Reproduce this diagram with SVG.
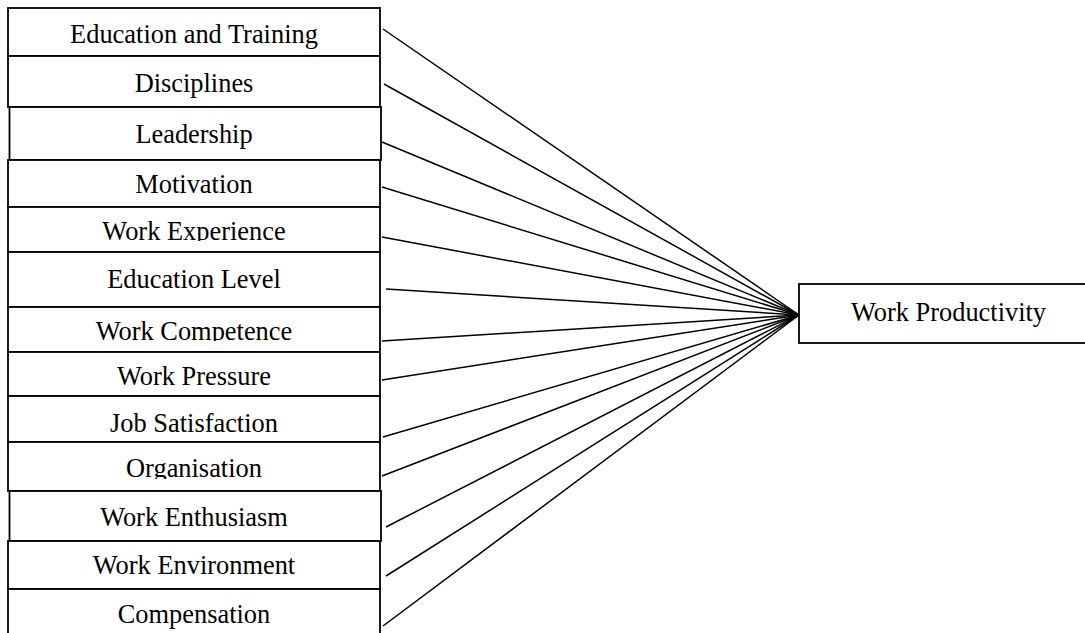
<svg xmlns="http://www.w3.org/2000/svg" width="1085" height="633" viewBox="0 0 1085 633">
<style>
.box{fill:#fff;stroke:#000;stroke-width:1.8}
.lbl{font-family:"Liberation Serif","Times New Roman",serif;font-size:26.4px;fill:#000;text-anchor:middle}
.con line{stroke:#000;stroke-width:1.5}
</style>
<defs>
<clipPath id="c5"><rect x="0" y="207" width="400" height="34"/></clipPath>
<clipPath id="c7"><rect x="0" y="307" width="400" height="34"/></clipPath>
<clipPath id="c8"><rect x="0" y="352" width="400" height="34"/></clipPath>
<clipPath id="c10"><rect x="0" y="442" width="400" height="37"/></clipPath>
</defs>
<rect width="1085" height="633" fill="#fff"/>
<g id="n1"><rect class="box" x="8" y="8" width="372" height="48"/><text class="lbl" x="194" y="43.3">Education and Training</text></g>
<g id="n2"><rect class="box" x="8" y="56" width="372" height="51"/><text class="lbl" x="194" y="91.7">Disciplines</text></g>
<g id="n3"><rect class="box" x="9.5" y="107" width="371.5" height="53"/><text class="lbl" x="194" y="143.3">Leadership</text></g>
<g id="n4"><rect class="box" x="8" y="160" width="372" height="47"/><text class="lbl" x="194" y="193.3">Motivation</text></g>
<g id="n5"><rect class="box" x="8" y="207" width="372" height="45"/><text class="lbl" x="194" y="240" clip-path="url(#c5)">Work Experience</text></g>
<g id="n6"><rect class="box" x="8" y="252" width="372" height="55"/><text class="lbl" x="194" y="287.7">Education Level</text></g>
<g id="n7"><rect class="box" x="8" y="307" width="372" height="45"/><text class="lbl" x="194" y="340" clip-path="url(#c7)">Work Competence</text></g>
<g id="n8"><rect class="box" x="8" y="352" width="372" height="44"/><text class="lbl" x="194" y="385" clip-path="url(#c8)">Work Pressure</text></g>
<g id="n9"><rect class="box" x="8" y="396" width="372" height="46"/><text class="lbl" x="194" y="431.7">Job Satisfaction</text></g>
<g id="n10"><rect class="box" x="8" y="442" width="372" height="49"/><text class="lbl" x="194" y="476.7" clip-path="url(#c10)">Organisation</text></g>
<g id="n11"><rect class="box" x="9.5" y="491" width="371.5" height="50"/><text class="lbl" x="194" y="525.7">Work Enthusiasm</text></g>
<g id="n12"><rect class="box" x="8" y="541" width="372" height="48"/><text class="lbl" x="194" y="574.3">Work Environment</text></g>
<g id="n13"><rect class="box" x="8" y="589" width="372" height="60"/><text class="lbl" x="194" y="623">Compensation</text></g>
<g id="n14"><rect class="box" x="799" y="284" width="300" height="59"/><text class="lbl" x="948.5" y="320.7">Work Productivity</text></g>
<g id="connectors" class="con">
<line x1="383" y1="29" x2="799" y2="315"/>
<line x1="384" y1="84" x2="799" y2="315"/>
<line x1="382" y1="142" x2="799" y2="315"/>
<line x1="382" y1="187" x2="799" y2="315"/>
<line x1="382" y1="237" x2="799" y2="315"/>
<line x1="386" y1="289" x2="799" y2="315"/>
<line x1="382" y1="341" x2="799" y2="315"/>
<line x1="382" y1="380" x2="799" y2="315"/>
<line x1="383" y1="437" x2="799" y2="315"/>
<line x1="382" y1="476" x2="799" y2="315"/>
<line x1="386" y1="527" x2="799" y2="315"/>
<line x1="386" y1="576" x2="799" y2="315"/>
<line x1="383" y1="626" x2="799" y2="315"/>
</g>
</svg>
